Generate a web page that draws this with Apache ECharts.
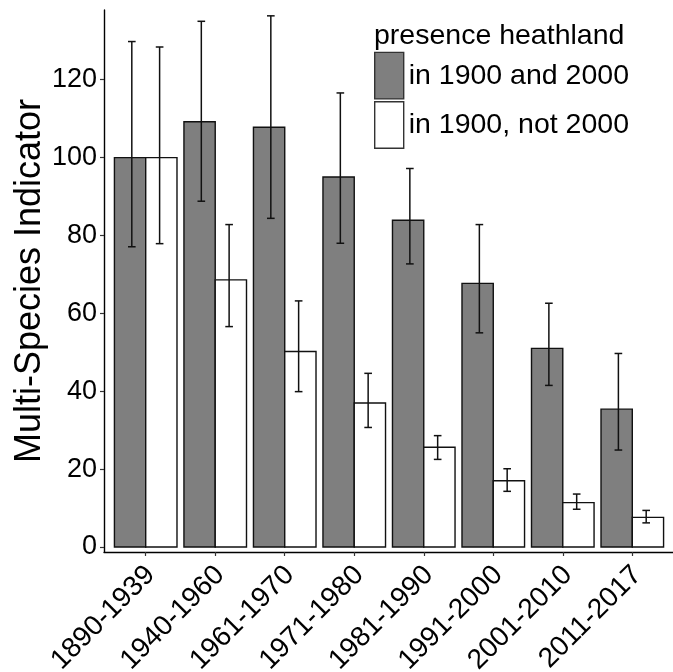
<!DOCTYPE html>
<html>
<head>
<meta charset="utf-8">
<script src="https://cdn.jsdelivr.net/npm/echarts@6/dist/echarts.min.js"></script>
<style>html,body{margin:0;padding:0;background:#fff;}#chart{width:673px;height:672px;}</style>
</head>
<body>
<div id="chart"></div>
<script>
const categories = ['1890-1939','1940-1960','1961-1970','1971-1980','1981-1990','1991-2000','2001-2010','2011-2017'];
const seriesNames = ['in 1900 and 2000', 'in 1900, not 2000'];
const bothValues = [100, 109.2, 107.8, 95.0, 83.9, 67.7, 51.0, 35.4];
const bothLower  = [77.1, 88.8, 84.4, 78.0, 72.7, 55.0, 41.5, 24.9];
const bothUpper  = [129.8, 135.0, 136.4, 116.6, 97.2, 82.8, 62.6, 49.7];
const lostValues = [100, 68.6, 50.2, 37.0, 25.6, 17.0, 11.4, 7.6];
const lostLower  = [77.9, 56.6, 39.9, 30.7, 22.5, 14.3, 9.7, 6.2];
const lostUpper  = [128.4, 82.8, 63.2, 44.6, 28.6, 20.1, 13.6, 9.4];
const yTicks = [0, 20, 40, 60, 80, 100, 120];
const legendTitle = 'presence heathland';
const yTitle = 'Multi-Species Indicator';

const FONT = "'Liberation Sans', Arial, Helvetica, sans-serif";
const xPositions = categories.map((c, i) => i + 1);

function barData(vals) {
  return vals.map((v, i) => [xPositions[i], v]);
}
function errData(vals, lo, hi) {
  return vals.map((v, i) => [xPositions[i], lo[i], hi[i]]);
}

function makeBarRender(side, fill) {
  return function (params, api) {
    const x = api.value(0), v = api.value(1);
    const x0 = side < 0 ? x - 0.45 : x;
    const x1 = side < 0 ? x : x + 0.45;
    const p0 = api.coord([x0, v]);
    const p1 = api.coord([x1, 0]);
    return {
      type: 'rect',
      shape: { x: p0[0], y: p0[1], width: p1[0] - p0[0], height: p1[1] - p0[1] },
      style: { fill: fill, stroke: '#111', lineWidth: 1.4 }
    };
  };
}
function makeErrRender(side) {
  return function (params, api) {
    const x = api.value(0) + side * 0.2;
    const lo = api.value(1), hi = api.value(2);
    const pLo = api.coord([x, lo]);
    const pHi = api.coord([x, hi]);
    const cl = api.coord([x - 0.055, lo]);
    const cr = api.coord([x + 0.055, lo]);
    const st = { stroke: '#111', lineWidth: 1.5 };
    return {
      type: 'group',
      children: [
        { type: 'line', shape: { x1: pLo[0], y1: pLo[1], x2: pHi[0], y2: pHi[1] }, style: st },
        { type: 'line', shape: { x1: cl[0], y1: pLo[1], x2: cr[0], y2: pLo[1] }, style: st },
        { type: 'line', shape: { x1: cl[0], y1: pHi[1], x2: cr[0], y2: pHi[1] }, style: st }
      ]
    };
  };
}

const chart = echarts.init(document.getElementById('chart'), null, { renderer: 'canvas' });
chart.setOption({
  backgroundColor: '#fff',
  animation: false,
  textStyle: { fontFamily: FONT },
  title: {
    text: legendTitle,
    left: 374,
    top: 22,
    padding: 0,
    textStyle: { fontFamily: FONT, fontSize: 28.5, fontWeight: 'normal', color: '#000' }
  },
  legend: {
    orient: 'vertical',
    left: 374,
    top: 51.7,
    padding: 0,
    itemWidth: 29,
    itemHeight: 46.5,
    itemGap: 1.5,
    textStyle: { fontFamily: FONT, fontSize: 28.5, color: '#000', padding: [3, 0, 0, 0] },
    data: [
      { name: seriesNames[0], icon: 'rect', itemStyle: { color: '#7f7f7f', borderColor: '#333', borderWidth: 1.4 } },
      { name: seriesNames[1], icon: 'rect', itemStyle: { color: '#ffffff', borderColor: '#333', borderWidth: 1.4 } }
    ]
  },
  grid: { left: 104, top: 10, width: 570, height: 542, containLabel: false, outerBoundsMode: 'none' },
  xAxis: {
    type: 'value',
    min: 0.4,
    max: 8.6,
    splitLine: { show: false },
    axisLine: { show: true, onZero: false, lineStyle: { color: '#000', width: 1.4 } },
    axisTick: { show: true, length: 4, customValues: xPositions, lineStyle: { color: '#333', width: 1.2 } },
    axisLabel: {
      customValues: xPositions,
      rotate: 45,
      align: 'right',
      verticalAlign: 'top',
      lineHeight: 14,
      margin: 13.5,
      hideOverlap: false,
      fontFamily: FONT,
      fontSize: 28,
      color: '#000',
      formatter: function (v) { return categories[Math.round(v) - 1] || ''; }
    }
  },
  yAxis: {
    type: 'value',
    min: -1.28,
    max: 137.9,
    name: yTitle,
    nameLocation: 'middle',
    nameRotate: 90,
    nameGap: 56,
    nameMoveOverlap: false,
    nameTextStyle: { fontFamily: FONT, fontSize: 36, color: '#000' },
    splitLine: { show: false },
    axisLine: { show: true, onZero: false, lineStyle: { color: '#000', width: 1.4 } },
    axisTick: { show: true, length: 4, customValues: yTicks, lineStyle: { color: '#333', width: 1.2 } },
    axisLabel: {
      customValues: yTicks,
      margin: 7,
      fontFamily: FONT,
      fontSize: 27,
      color: '#000'
    }
  },
  series: [
    { name: seriesNames[0], type: 'custom', renderItem: makeBarRender(-1, '#7f7f7f'), data: barData(bothValues),
      itemStyle: { color: '#7f7f7f' }, encode: { x: 0, y: 1 }, z: 2 },
    { name: seriesNames[1], type: 'custom', renderItem: makeBarRender(1, '#ffffff'), data: barData(lostValues),
      itemStyle: { color: '#ffffff' }, encode: { x: 0, y: 1 }, z: 2 },
    { name: seriesNames[0], type: 'custom', renderItem: makeErrRender(-1), data: errData(bothValues, bothLower, bothUpper),
      encode: { x: 0, y: [1, 2] }, z: 3 },
    { name: seriesNames[1], type: 'custom', renderItem: makeErrRender(1), data: errData(lostValues, lostLower, lostUpper),
      encode: { x: 0, y: [1, 2] }, z: 3 }
  ]
});
</script>
</body>
</html>
